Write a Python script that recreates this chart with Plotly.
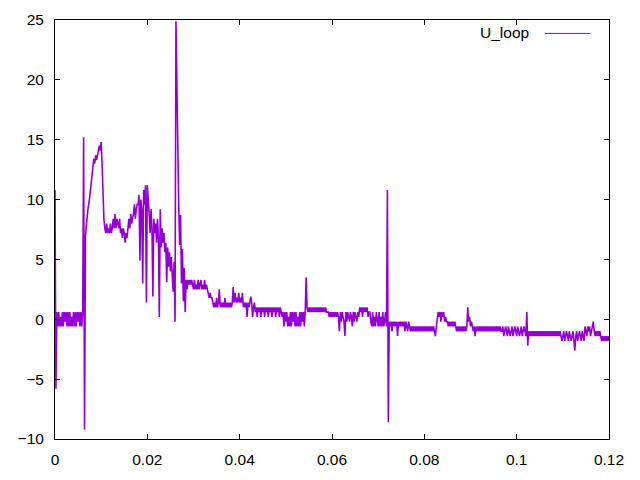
import numpy as np
import plotly.graph_objects as go

DT = 0.0002  # sample spacing (s)

# U_loop samples; each segment = (first sample index, values)
seg_start_idx = 0
seg_start = [10.8, -5.8,
             0.6, -0.6, 0.6, -0.6, 0.2, -0.6, 0.6, -0.6, 0.6, -0.2,
             0.6, -0.6, 0.6, -0.6, 0.6, -0.6, 0.2, -0.6, 0.6, -0.6,
             0.6, -0.6, 0.6, -0.2, 0.6, -0.6, 0.6, -0.6, 0.6]

seg_rise_idx = 31
seg_rise = [15.2, -9.2, 6.9, 7.9, 9.0, 9.4, 9.8, 10.5, 11.6, 12.4, 12.9, 13.4,
            13.0, 13.7, 13.3, 13.7, 14.1, 14.5, 14.1, 14.8, 13.0, 10.3, 8.3]

seg_hump_idx = 54
seg_hump = [7.6, 7.2, 8.0, 7.2, 7.6, 7.2, 8.0, 7.2, 7.6,
            8.4, 7.6, 8.8, 7.6, 8.4, 8.0,
            7.6, 8.4, 7.2, 7.6, 6.8, 7.6, 7.2, 6.4, 7.2, 6.8,
            7.6, 8.4, 7.6, 8.8, 8.0, 8.4,
            8.8, 9.6, 8.4, 9.2, 9.6,
            9.6, 10.4, 4.9, 10.0, 9.2, 3.0, 10.8, 9.6, 11.2, 1.4, 11.2, 9.2,
            8.8, 7.2, 9.2, 7.6, 1.9, 8.4, 7.2,
            8.0, 6.4, 8.4, 6.8, 0.2, 9.2, 6.0, 7.6, 6.4,
            7.2, 5.6, 6.4, 3.1, 6.0, 4.4, 5.6, 4.0, 5.2, 3.6, 2.3, 4.8]

seg_spike_idx = 130
seg_spike = [-0.2, 24.9, 18.2, 13.7, 9.5, 6.2, 8.7, 3.0, 5.9, 1.5, 4.3, 0.6]

seg_decay_idx = 142
seg_decay = [3.3, 2.5, 3.3, 2.9, 3.3, 2.9, 3.3, 2.9,
             2.5, 3.3, 2.5, 2.9, 2.5, 3.3, 2.5, 2.9, 3.3, 2.5, 2.9, 2.5, 3.3, 2.5, 2.9, 2.5,
             2.2, 1.8, 2.2, 1.8, 1.8, 1.4,
             1.0, 1.4, 1.0, 1.8, 1.0, 1.4, 2.5, 1.0, 1.4, 1.0, 1.4, 1.0, 1.8, 1.0, 1.4,
             1.0, 1.4, 1.0, 1.4, 1.0, 1.4, 2.7,
             1.4, 2.2, 1.4, 1.8, 1.4, 2.2, 1.4, 1.8, 1.4, 2.2,
             1.0, 1.4, 1.0, 1.4, 0.2, 1.4, 1.0, 1.4, 1.9, 1.4, 0.2, 1.0, 1.4,
             0.6, 1.0, 0.2, 1.0, 0.6, 1.0, 0.2, 1.0, 0.6, 1.0, 0.2, 1.0, 0.6, 1.0,
             0.2, 1.0, 0.6, 1.0, 0.2, 1.0, 0.6, 1.0, 0.2, 1.0, 0.6, 1.0, 0.2, 1.0,
             0.6, 0.2]

seg_mid_idx = 247
seg_mid = [0.6, -0.6, 0.6, -0.2, 0.6, -0.6, 0.2, -0.6, 0.6, -0.6, 0.6, -0.2, 0.6,
           -0.6, 0.6, -0.6, 0.2, -0.6, 0.6, -0.6, 0.6, -0.2, 0.6, -0.6, 0.6,
           3.5,
           1.0, 0.6, 1.0, 0.6, 1.0, 0.6, 1.0, 0.6, 1.0, 0.6, 1.0, 0.6, 1.0, 0.6,
           1.0, 0.6, 1.0, 0.6, 1.0, 0.6, 1.0, 0.6, 0.6,
           0.6, 0.2, 0.6, 0.2, 0.6, 0.2, 0.6, 0.2, 0.6, 0.2, 0.6, 0.2,
           -1.0,
           0.6, -0.2, 0.6, 0.2, -0.2,
           -1.4,
           0.6, -0.2, 0.6, 0.2, -0.2, 0.6, 0.2, -0.6, 0.6, -0.2, 0.6, 0.2, -0.2, 0.6, 0.2,
           1.0, 0.6, 1.0, 0.2, 1.0, 0.6, 1.0, 0.6, 1.0, 0.2, 0.6,
           0.6, -0.2, -0.6, 0.6, -0.6, 0.2, -0.6, 0.6, -0.2, -0.6, 0.6, -0.6, 0.2,
           -0.6, 0.6, -0.6, -0.2, 0.6, -0.6]

seg_tail_idx = 360
seg_tail = [10.8, -8.6,
            -0.2, -0.6, -0.2, -1.0, -0.2, -0.6, -0.2, -0.6, -0.2, -1.4, -0.2, -0.6, -0.2, -0.6, -0.2,
            -0.6, -0.2, -1.0, -0.2, -0.6, -1.0, -0.2, -0.6, -1.0, -0.6, -1.0, -0.6,
            -1.0, -0.6, -1.0, -0.6, -1.0, -0.6, -1.0, -0.6, -1.0, -0.6, -1.0, -0.6,
            -1.0, -0.6, -1.0, -0.6, -1.0, -0.6, -1.0, -0.6, -1.0, -0.6, -1.0,
            -1.4,
            -0.6, 0.2, 0.6, 0.2, 0.6, -0.2, 0.6, 0.2, 0.6, -0.2, 0.2, -0.2,
            -0.2, -0.6, -0.2, -0.6, -0.2, -0.6, -0.2, -0.6, -0.2, -0.6,
            -1.0, -0.6, -1.0, -0.6, -1.0, -0.6, -1.0, -0.6, -1.0, -0.6, -1.0, -0.6,
            1.0,
            -0.2, 0.2, -0.6, -0.2,
            -0.6, -1.0, -0.6,
            -1.4,
            -0.6, -1.0, -0.6, -1.0, -0.6, -1.0, -0.6, -1.0, -0.6, -1.0, -0.6, -1.0, -0.6, -1.0,
            -0.6, -1.0, -0.6, -1.0, -0.6, -1.0, -0.6, -1.0, -0.6, -1.0, -0.6, -1.0, -0.6, -1.0,
            -1.0, -0.6, -1.4, -1.0, -0.6, -1.0, -1.4, -0.6, -1.0, -1.4, -1.0, -0.6, -1.4, -1.0,
            -0.6, -1.0, -1.4, -0.6, -1.0, -1.4, -1.0, -0.6, -1.4, -1.0, -0.6, -1.0, -1.4,
            0.6, -2.2,
            -1.0, -1.4, -1.0, -1.4, -1.0, -1.4, -1.0, -1.4, -1.0, -1.4, -1.0, -1.4, -1.0, -1.4,
            -1.0, -1.4, -1.0, -1.4, -1.0, -1.4, -1.0, -1.4, -1.0, -1.4, -1.0, -1.4, -1.0, -1.4,
            -1.0, -1.4, -1.0, -1.4, -1.0, -1.4,
            -1.0, -1.4, -1.8, -1.4, -1.0, -1.8, -1.4, -1.0, -1.4, -1.8, -1.0, -1.4, -1.8, -1.4,
            -1.0, -1.8,
            -2.6,
            -1.4, -1.0, -1.8, -1.4, -1.0, -1.4, -1.8, -1.0, -1.4, -1.8,
            -0.6, -1.0, -1.4, -0.6, -1.0, -0.6, -1.4, -1.0, -0.6,
            -0.2,
            -1.0, -1.4, -1.0, -1.4, -1.0, -1.4, -1.0,
            -1.4, -1.8, -1.4, -1.8, -1.4, -1.8, -1.4, -1.8, -1.4, -1.8]

segments = [(seg_start_idx, seg_start), (seg_rise_idx, seg_rise), (seg_hump_idx, seg_hump),
            (seg_spike_idx, seg_spike), (seg_decay_idx, seg_decay), (seg_mid_idx, seg_mid),
            (seg_tail_idx, seg_tail)]

t_vals, u_vals = [], []
for start, vals in segments:
    t_vals.extend(((start + np.arange(len(vals))) * DT).tolist())
    u_vals.extend(vals)

x_ticks = [0, 0.02, 0.04, 0.06, 0.08, 0.1, 0.12]
x_tick_text = ["0", "0.02", "0.04", "0.06", "0.08", "0.1", "0.12"]
y_ticks = [-10, -5, 0, 5, 10, 15, 20, 25]

FONT = "Liberation Sans, Arial, sans-serif"
COLOR = "#9400D3"

fig = go.Figure()
fig.add_trace(go.Scatter(x=t_vals, y=u_vals, mode="lines", name="U_loop",
                         line=dict(color=COLOR, width=1.6), showlegend=False))

# gnuplot-style key: text on the left, line sample on the right
fig.add_annotation(xref="paper", yref="paper", x=0.859, y=0.970, text="U_loop",
                   showarrow=False, xanchor="right", yanchor="middle",
                   font=dict(family=FONT, size=15.5, color="black"))
fig.add_shape(type="line", xref="paper", yref="paper", x0=0.8845, x1=0.9657,
              y0=0.968, y1=0.968, line=dict(color=COLOR, width=1))

axis_common = dict(showline=True, linecolor="black", linewidth=1, mirror="ticks",
                   ticks="inside", ticklen=5, tickcolor="black", showgrid=False,
                   zeroline=False, automargin=False,
                   tickfont=dict(family=FONT, size=15.5, color="black"))

# the page body has an 8px margin, so the figure is sized to fit the 640x480 window
fig.update_layout(
    width=624, height=464,
    margin=dict(l=47, r=23, t=12, b=33),
    paper_bgcolor="white", plot_bgcolor="white",
    xaxis=dict(range=[0, 0.12], tickvals=x_ticks, ticktext=x_tick_text,
               ticklabelstandoff=6, **axis_common),
    yaxis=dict(range=[-10, 25], tickvals=y_ticks, ticklabelstandoff=7, **axis_common),
)

fig.write_html("out.html")
